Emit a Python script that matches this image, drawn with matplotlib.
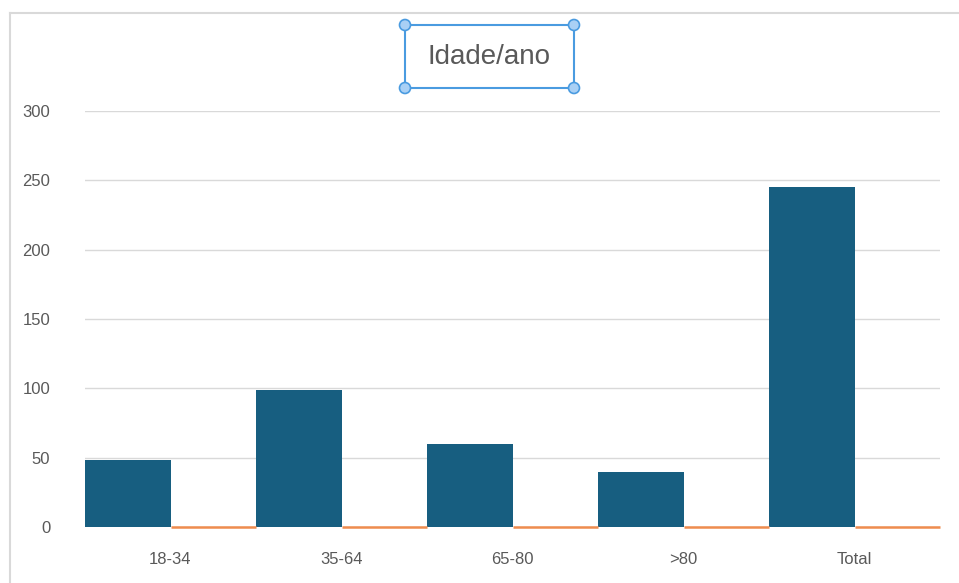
import matplotlib.pyplot as plt
from matplotlib.patches import Rectangle, Circle
from matplotlib.lines import Line2D
import numpy as np

categories = ['18-34', '35-64', '65-80', '>80', 'Total']
idade = [48, 99, 60, 40, 245]
serie2 = [0, 0, 0, 0, 0]
yticks = [0, 50, 100, 150, 200, 250, 300]

plt.rcParams['font.family'] = ['Liberation Sans Narrow', 'Liberation Sans', 'DejaVu Sans']

W, H = 959, 583
fig = plt.figure(figsize=(W / 100, H / 100), dpi=100)
ax = fig.add_axes([85 / W, (H - 527) / H, (940 - 85) / W, (527 - 111) / H])

x = np.arange(len(categories))
bw = 0.5
ax.bar(x - bw / 2, idade, width=bw, color='#175e80', zorder=3)
ax.bar(x + bw / 2, serie2, width=bw, color='#ef8c4e', edgecolor='#ef8c4e',
       linewidth=1.8, zorder=3, clip_on=False)

ax.set_xlim(-0.5, len(categories) - 0.5)
ax.set_ylim(0, 300)
ax.set_yticks(yticks)
ax.set_xticks(x)
ax.set_xticklabels(categories)
ax.grid(axis='y', color='#d9d9d9', linewidth=1, zorder=0)
for s in ax.spines.values():
    s.set_visible(False)
ax.tick_params(axis='both', length=0, labelsize=12, colors='#595959')
ax.tick_params(axis='y', pad=25)
ax.tick_params(axis='x', pad=18)

# outer chart border
fig.add_artist(Line2D([10 / W, 1], [(H - 13) / H] * 2, color='#d9d9d9', linewidth=1.5))
fig.add_artist(Line2D([10 / W] * 2, [0, (H - 13) / H], color='#d9d9d9', linewidth=1.5))

# title in selected box
x0, x1 = 405 / W, 574 / W
y0, y1 = (H - 88) / H, (H - 25) / H
fig.add_artist(Rectangle((x0, y0), x1 - x0, y1 - y0, fill=False,
                         edgecolor='#4a9be0', linewidth=1.5))
for cx, cy in [(x0, y0), (x0, y1), (x1, y0), (x1, y1)]:
    fig.add_artist(Circle((cx * W, cy * H), 5.5, transform=None,
                          facecolor='#a9d0f5', edgecolor='#4a9be0', linewidth=1.2))
fig.text((x0 + x1) / 2, (y0 + y1) / 2, 'Idade/ano', ha='center', va='center',
         fontsize=20, color='#595959')

fig.savefig('out.png', dpi=100)
